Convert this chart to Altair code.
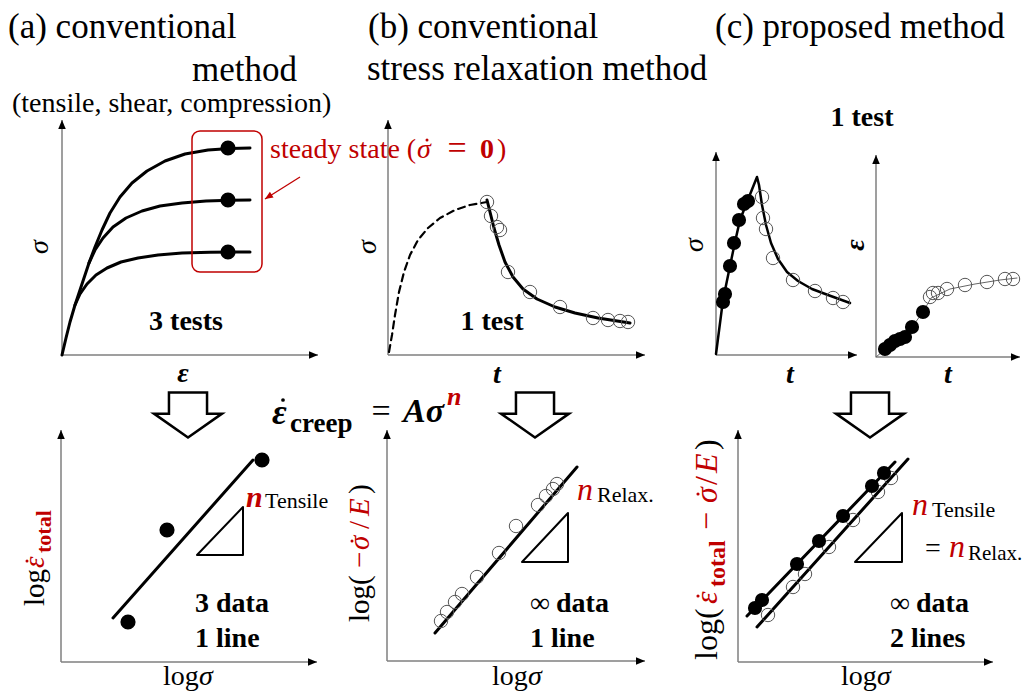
import altair as alt
import pandas as pd

FONT = "Liberation Serif, Times New Roman, serif"
RED = "#c00000"
AXIS_GRAY = "#7f7f7f"

# ---------------- data (screen coordinates) ----------------
# (a) three stress-strain curves + steady-state points
a_hi_x = [62, 66, 70, 75, 79, 84, 89, 95, 102, 110, 120, 132, 147, 165, 185, 208, 230, 250]
a_hi_y = [355, 338, 322, 305, 293, 278, 263, 247, 230, 213, 197, 183, 171, 161, 154, 150, 148.5, 148]
a_mid_x = [89, 95, 103, 113, 126, 142, 160, 182, 206, 230, 250]
a_mid_y = [263, 250, 238, 227, 218, 211, 206, 203, 201, 200.3, 200]
a_lo_x = [75, 80, 87, 96, 107, 121, 138, 158, 182, 210, 235, 250]
a_lo_y = [305, 294, 284, 275, 268, 262, 258, 255, 253, 252.3, 252, 252]
a_dot_x = [228, 228, 228]
a_dot_y = [148, 200, 252]

# (b) loading (dashed) + relaxation curve and its points
b_load_x = [389, 392, 395, 399, 404, 410, 418, 428, 440, 455, 470, 487]
b_load_y = [352, 335, 315, 292, 272, 255, 240, 228, 218, 210, 205, 202]
b_relax_x = [487, 490, 494, 499, 505, 513, 523, 537, 555, 575, 598, 630]
b_relax_y = [200, 212, 228, 245, 262, 277, 289, 299, 307, 313, 318, 323]
b_pts_x = [487, 491, 497, 500, 508, 530, 560, 593, 608, 620, 628]
b_pts_y = [202, 216, 227, 230, 272, 292, 307, 318, 320, 321, 322]

# (c) stress-time
c1_line_x = [716, 723, 730, 735, 740, 747, 757, 759, 762, 766, 771, 778, 787, 798, 812, 828, 850]
c1_line_y = [354, 300, 266, 242, 220, 202, 177, 185, 205, 225, 243, 259, 272, 281, 289, 295, 303]
c1_fill_x = [723, 725, 730, 734, 739, 744, 748]
c1_fill_y = [302, 294, 266, 243, 220, 204, 201]
c1_open_x = [762, 763, 766, 773, 793, 815, 833, 843]
c1_open_y = [197, 218, 229, 258, 280, 291, 298, 302]
# (c) strain-time
c2_line_x = [876, 888, 900, 912, 923, 931, 950, 975, 1000, 1017]
c2_line_y = [357, 347, 338, 327, 312, 298, 289, 284, 280, 278]
c2_fill_x = [885, 890, 895, 900, 905, 912, 923]
c2_fill_y = [349, 345, 341, 339, 337, 327, 312]
c2_open_x = [930, 933, 938, 947, 965, 987, 1005, 1013]
c2_open_y = [297, 293, 293, 289, 285, 282, 279, 279]

# bottom row: log-log plots
d1_fit_x = [113, 253]
d1_fit_y = [618, 460]
d1_pts_x = [128, 167, 262]
d1_pts_y = [622, 530, 460]

d2_fit_x = [435, 577]
d2_fit_y = [633, 467]
d2_pts_x = [441, 447, 455, 462, 477, 499, 516, 538, 546, 553, 557]
d2_pts_y = [621, 612, 602, 594, 577, 553, 526, 505, 496, 489, 484]

d3_fit1_x = [747, 895]
d3_fit1_y = [616, 462]
d3_fit2_x = [757, 908]
d3_fit2_y = [627, 459]
d3_fill_x = [755, 762, 797, 819, 843, 872, 884]
d3_fill_y = [608, 600, 564, 541, 516, 486, 473]
d3_open_x = [768, 793, 805, 829, 853, 878, 891]
d3_open_y = [615, 587, 574, 547, 520, 492, 478]

# slope triangles
tri_a_x = [197, 243, 243, 197]
tri_a_y = [555, 555, 507, 555]
tri_b_x = [522, 568, 568, 522]
tri_b_y = [562, 562, 513, 562]
tri_c_x = [855, 902, 902, 855]
tri_c_y = [562, 562, 513, 562]

# axes: origin and arrow ends
ax_x0 = [62, 388, 716, 876, 61, 387, 738]
ax_y0 = [355, 355, 355, 357, 662, 661, 662]
ax_xend = [318, 645, 857, 1020, 317, 645, 993]
ax_ytop = [120, 120, 152, 155, 430, 430, 430]

# big hollow arrows (centres)
big_x = [188, 535, 870]
big_y = [415, 415, 415]

# red box and pointer
box_x = [192]
box_x2 = [262]
box_y = [131]
box_y2 = [272]
ptr_x = [300]
ptr_y = [177]
ptr_x2 = [265]
ptr_y2 = [199]

# time-derivative dots over the symbols (sigma-dot, epsilon-dot)
tdot_x = [427, 283, 27, 352, 698, 698]
tdot_y = [140, 400, 561, 541, 596, 494]
tdot_c = [RED, "black", RED, RED, RED, RED]
tdot_s = [9, 14, 9, 9, 10, 10]

# text: text, x, y, size, weight, style, color, angle, align, baseline
L, C, A, M = "left", "center", "alphabetic", "middle"
labels = [
    ("(a) conventional", 8, 38, 35, "normal", "normal", "black", 0, L, A),
    ("method", 192, 81, 35, "normal", "normal", "black", 0, L, A),
    ("(tensile, shear, compression)", 12, 112, 28, "normal", "normal", "black", 0, L, A),
    ("(b) conventional", 368, 38, 35, "normal", "normal", "black", 0, L, A),
    ("stress relaxation method", 367, 80, 35, "normal", "normal", "black", 0, L, A),
    ("(c) proposed method", 715, 38, 35, "normal", "normal", "black", 0, L, A),
    ("1 test", 862, 126, 28, "bold", "normal", "black", 0, C, A),
    ("3 tests", 186, 330, 28, "bold", "normal", "black", 0, C, A),
    ("1 test", 492, 330, 28, "bold", "normal", "black", 0, C, A),
    # steady state (sigma-dot = 0)
    ("steady state (", 270, 158, 28, "normal", "normal", RED, 0, L, A),
    ("σ", 417, 158, 28, "normal", "italic", RED, 0, L, A),
    ("=", 457, 159, 34, "normal", "normal", RED, 0, C, A),
    ("0", 480, 158, 28, "bold", "normal", RED, 0, L, A),
    (")", 497, 158, 28, "normal", "normal", RED, 0, L, A),
    # axis letters, top row
    ("σ", 40, 247, 28, "normal", "italic", "black", 270, C, M),
    ("ε", 183, 382, 28, "bold", "italic", "black", 0, C, A),
    ("σ", 368, 247, 28, "normal", "italic", "black", 270, C, M),
    ("t", 497, 383, 28, "bold", "italic", "black", 0, C, A),
    ("σ", 695, 245, 28, "normal", "italic", "black", 270, C, M),
    ("ε", 856, 245, 28, "bold", "italic", "black", 270, C, M),
    ("t", 790, 383, 28, "bold", "italic", "black", 0, C, A),
    ("t", 948, 383, 28, "bold", "italic", "black", 0, C, A),
    # creep law
    ("ε", 272, 424, 36, "bold", "italic", "black", 0, L, A),
    ("creep", 290, 432, 27, "bold", "normal", "black", 0, L, A),
    ("=", 381, 422, 34, "normal", "normal", "black", 0, C, A),
    ("Aσ", 403, 422, 34, "bold", "italic", "black", 0, L, A),
    ("n", 447, 405, 26, "bold", "italic", RED, 0, L, A),
    # bottom (a)
    ("log", 44, 606, 29, "normal", "normal", "black", 270, L, A),
    ("ε", 44, 568, 29, "normal", "italic", RED, 270, L, A),
    ("total", 51, 553, 22, "bold", "normal", RED, 270, L, A),
    ("n", 246, 507, 30, "bold", "italic", RED, 0, L, A),
    ("Tensile", 265, 508, 22, "normal", "normal", "black", 0, L, A),
    ("3 data", 195, 612, 28, "bold", "normal", "black", 0, L, A),
    ("1 line", 195, 647, 28, "bold", "normal", "black", 0, L, A),
    ("log", 163, 685, 28, "normal", "normal", "black", 0, L, A),
    ("σ", 199, 685, 28, "normal", "italic", "black", 0, L, A),
    # bottom (b)
    ("log(", 369, 622, 29, "normal", "normal", "black", 270, L, A),
    ("−", 369, 568, 29, "normal", "normal", RED, 270, L, A),
    ("σ", 369, 550, 29, "normal", "italic", RED, 270, L, A),
    ("/", 369, 529, 29, "normal", "normal", RED, 270, L, A),
    ("E", 369, 516, 29, "normal", "italic", RED, 270, L, A),
    (")", 369, 494, 29, "normal", "normal", "black", 270, L, A),
    ("n", 577, 500, 32, "normal", "italic", RED, 0, L, A),
    ("Relax.", 597, 502, 22, "normal", "normal", "black", 0, L, A),
    ("∞", 530, 612, 28, "normal", "normal", "black", 0, L, A),
    ("data", 556, 612, 28, "bold", "normal", "black", 0, L, A),
    ("1 line", 530, 647, 28, "bold", "normal", "black", 0, L, A),
    ("log", 492, 685, 28, "normal", "normal", "black", 0, L, A),
    ("σ", 528, 685, 28, "normal", "italic", "black", 0, L, A),
    # bottom (c)
    ("log(", 717, 660, 32, "normal", "normal", "black", 270, L, A),
    ("ε", 717, 604, 32, "normal", "italic", RED, 270, L, A),
    ("total", 725, 587, 24, "bold", "normal", RED, 270, L, A),
    ("−", 717, 530, 32, "normal", "normal", RED, 270, L, A),
    ("σ", 717, 503, 32, "normal", "italic", RED, 270, L, A),
    ("/", 717, 485, 32, "normal", "normal", RED, 270, L, A),
    ("E", 717, 473, 32, "normal", "italic", RED, 270, L, A),
    (")", 717, 450, 32, "normal", "normal", "black", 270, L, A),
    ("n", 912, 515, 32, "normal", "italic", RED, 0, L, A),
    ("Tensile", 932, 517, 22, "normal", "normal", "black", 0, L, A),
    ("=", 925, 557, 28, "normal", "normal", "black", 0, L, A),
    ("n", 949, 557, 32, "normal", "italic", RED, 0, L, A),
    ("Relax.", 968, 560, 21, "normal", "normal", "black", 0, L, A),
    ("∞", 890, 612, 28, "normal", "normal", "black", 0, L, A),
    ("data", 916, 612, 28, "bold", "normal", "black", 0, L, A),
    ("2 lines", 890, 647, 28, "bold", "normal", "black", 0, L, A),
    ("log", 841, 685, 28, "normal", "normal", "black", 0, L, A),
    ("σ", 877, 685, 28, "normal", "italic", "black", 0, L, A),
]

# ---------------- chart ----------------
XS = alt.Scale(domain=[8, 1027], nice=False, zero=False)
YS = alt.Scale(domain=[8, 691], nice=False, zero=False, reverse=True)


def X(f="x"):
    return alt.X(f"{f}:Q", scale=XS, axis=None)


def Y(f="y"):
    return alt.Y(f"{f}:Q", scale=YS, axis=None)


def polys(items):
    frames = []
    for name, xv, yv in items:
        frames.append(pd.DataFrame({"x": xv, "y": yv, "id": name, "o": list(range(len(xv)))}))
    return pd.concat(frames, ignore_index=True)


def pts(xv, yv):
    return pd.DataFrame({"x": xv, "y": yv})


def line_layer(df, width, color="black", dash=None):
    kw = dict(color=color, strokeWidth=width, strokeCap="round", strokeJoin="round")
    if dash:
        kw["strokeDash"] = dash
    return alt.Chart(df).mark_line(**kw).encode(x=X(), y=Y(), detail="id:N", order="o:Q")


layers = []

# axes
axes = pd.DataFrame({"x": ax_x0, "y": ax_y0, "xe": ax_xend, "yt": ax_ytop})
layers.append(alt.Chart(axes).mark_rule(color=AXIS_GRAY, strokeWidth=1.5).encode(
    x=X(), y=Y(), y2=alt.Y2("yt:Q")))
layers.append(alt.Chart(axes).mark_rule(color=AXIS_GRAY, strokeWidth=1.5).encode(
    x=X(), x2=alt.X2("xe:Q"), y=Y()))
layers.append(alt.Chart(axes).mark_point(
    shape="M 0 0 L -0.42 1 L 0.42 1 Z", filled=True, color="black", opacity=1, size=324
).encode(x=X(), y=Y("yt")))
layers.append(alt.Chart(axes).mark_point(
    shape="M 0 0 L -1 -0.42 L -1 0.42 Z", filled=True, color="black", opacity=1, size=324
).encode(x=X("xe"), y=Y()))

# thick curves
thick = polys([
    ("a_hi", a_hi_x, a_hi_y), ("a_mid", a_mid_x, a_mid_y), ("a_lo", a_lo_x, a_lo_y),
    ("b_relax", b_relax_x, b_relax_y),
    ("d1", d1_fit_x, d1_fit_y), ("d2", d2_fit_x, d2_fit_y),
    ("d3a", d3_fit1_x, d3_fit1_y), ("d3b", d3_fit2_x, d3_fit2_y),
])
layers.append(line_layer(thick, 3))
layers.append(line_layer(polys([("c1", c1_line_x, c1_line_y)]), 2.5))
layers.append(line_layer(polys([("c2", c2_line_x, c2_line_y)]), 1, color="#666666"))
layers.append(line_layer(polys([("b_load", b_load_x, b_load_y)]), 2.2, dash=[7, 5]))
layers.append(line_layer(polys([("ta", tri_a_x, tri_a_y), ("tb", tri_b_x, tri_b_y),
                                ("tc", tri_c_x, tri_c_y)]), 2))

# open circles
open_df = pd.concat([pts(b_pts_x, b_pts_y), pts(c1_open_x, c1_open_y), pts(c2_open_x, c2_open_y),
                     pts(d2_pts_x, d2_pts_y), pts(d3_open_x, d3_open_y)], ignore_index=True)
layers.append(alt.Chart(open_df).mark_point(
    shape="circle", filled=False, stroke="#555555", strokeWidth=1, opacity=1, size=180
).encode(x=X(), y=Y()))

# filled dots
big_dots = pd.concat([pts(a_dot_x, a_dot_y), pts(d1_pts_x, d1_pts_y)], ignore_index=True)
layers.append(alt.Chart(big_dots).mark_point(
    shape="circle", filled=True, color="black", opacity=1, size=230).encode(x=X(), y=Y()))
small_dots = pd.concat([pts(c1_fill_x, c1_fill_y), pts(c2_fill_x, c2_fill_y),
                        pts(d3_fill_x, d3_fill_y)], ignore_index=True)
layers.append(alt.Chart(small_dots).mark_point(
    shape="circle", filled=True, color="black", opacity=1, size=200).encode(x=X(), y=Y()))

# red box + pointer
box = pd.DataFrame({"x": box_x, "x2": box_x2, "y": box_y, "y2": box_y2})
layers.append(alt.Chart(box).mark_rect(
    fill=None, stroke=RED, strokeWidth=1.5, cornerRadius=8, filled=False
).encode(x=X(), x2=alt.X2("x2:Q"), y=Y(), y2=alt.Y2("y2:Q")))
ptr = pd.DataFrame({"x": ptr_x, "y": ptr_y, "x2": ptr_x2, "y2": ptr_y2})
layers.append(alt.Chart(ptr).mark_rule(color=RED, strokeWidth=1.3).encode(
    x=X(), y=Y(), x2=alt.X2("x2:Q"), y2=alt.Y2("y2:Q")))
layers.append(alt.Chart(ptr).mark_point(
    shape="M 0 0 L -1 -0.42 L -1 0.42 Z", filled=True, color=RED, opacity=1, size=256, angle=147
).encode(x=X("x2"), y=Y("y2")))

# big hollow arrows
arrows = pts(big_x, big_y)
layers.append(alt.Chart(arrows).mark_point(
    shape="M -0.56 -0.66 L 0.56 -0.66 L 0.56 -0.04 L 1 -0.04 L 0 0.66 L -1 -0.04 L -0.56 -0.04 Z",
    filled=True, fill="white", stroke="black", strokeWidth=2.5, opacity=1, size=4624,
    strokeJoin="miter"
).encode(x=X(), y=Y()))

# derivative dots
tdots = pd.DataFrame({"x": tdot_x, "y": tdot_y, "c": tdot_c, "s": tdot_s})
layers.append(alt.Chart(tdots).mark_point(shape="circle", filled=True, opacity=1).encode(
    x=X(), y=Y(), color=alt.Color("c:N", scale=None), size=alt.Size("s:Q", scale=None)))

# text
tdf = pd.DataFrame(labels, columns=["text", "x", "y", "size", "weight", "style", "color",
                                    "angle", "align", "baseline"])
for (w, s, al, bl), g in tdf.groupby(["weight", "style", "align", "baseline"]):
    layers.append(alt.Chart(g.reset_index(drop=True)).mark_text(
        font=FONT, fontWeight=w, fontStyle=s, align=al, baseline=bl
    ).encode(
        x=X(), y=Y(), text="text:N",
        size=alt.Size("size:Q", scale=None),
        color=alt.Color("color:N", scale=None),
        angle=alt.Angle("angle:Q", scale=None),
    ))

chart = alt.layer(*layers).properties(
    width=1019, height=683, padding=0, autosize=alt.AutoSizeParams(type="none"),
    background="white",
).configure_view(stroke=None)

chart.save("out.html", embed_options={"renderer": "svg", "actions": False})
